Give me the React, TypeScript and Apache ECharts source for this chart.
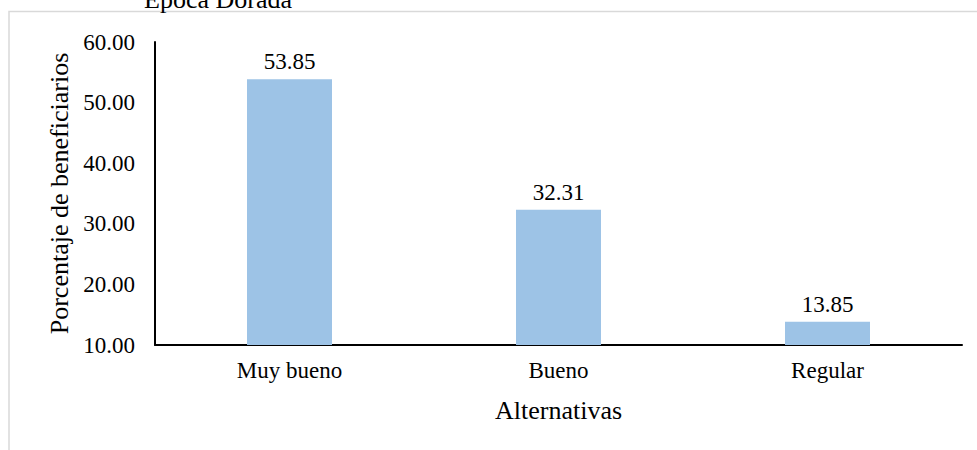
import React, { useEffect, useRef } from "react";
import * as echarts from "echarts";

// Survey results: share of beneficiaries per answer
const titleText = "Época Dorada";
const categories = ["Muy bueno", "Bueno", "Regular"];
const percentages = [53.85, 32.31, 13.85];
const yMin = 10;
const yMax = 60;
const yStep = 10;
const xAxisTitle = "Alternativas";
const yAxisTitle = "Porcentaje de beneficiarios";

const FONT = "'Liberation Serif', 'Times New Roman', serif";

export default function App() {
  const ref = useRef<HTMLDivElement>(null);

  useEffect(() => {
    if (!ref.current) return;
    const chart = echarts.init(ref.current, null, { renderer: "svg" });
    chart.setOption({
      animation: false,
      backgroundColor: "#ffffff",
      textStyle: { fontFamily: FONT, color: "#000" },
      graphic: [
        {
          type: "rect",
          shape: { x: 9, y: 11.5, width: 1100, height: 600 },
          style: { fill: "none", stroke: "#D9D9D9", lineWidth: 1.5 },
          silent: true,
          z: 0,
        },
        {
          type: "text",
          x: 218,
          y: -1,
          style: {
            text: titleText,
            fontFamily: FONT,
            fontSize: 26,
            fill: "#000",
            align: "center",
            verticalAlign: "middle",
          },
          z: 10,
        },
      ],
      grid: { left: 155, right: 15, top: 42, bottom: 105, containLabel: false },
      xAxis: {
        type: "category",
        data: categories,
        axisLine: { show: true, lineStyle: { color: "#000", width: 2 } },
        axisTick: { show: false },
        axisLabel: { fontFamily: FONT, fontSize: 23, color: "#000", margin: 14 },
        name: xAxisTitle,
        nameLocation: "middle",
        nameGap: 52,
        nameTextStyle: { fontFamily: FONT, fontSize: 26, color: "#000" },
      },
      yAxis: {
        type: "value",
        min: yMin,
        max: yMax,
        interval: yStep,
        axisLine: { show: true, lineStyle: { color: "#000", width: 2 } },
        axisTick: { show: false },
        splitLine: { show: false },
        axisLabel: {
          fontFamily: FONT,
          fontSize: 23,
          color: "#000",
          margin: 20,
          formatter: (v: number) => v.toFixed(2),
        },
        name: yAxisTitle,
        nameLocation: "middle",
        nameGap: 93,
        nameRotate: 90,
        nameTextStyle: { fontFamily: FONT, fontSize: 26, color: "#000", verticalAlign: "middle" },
      },
      series: [
        {
          type: "bar",
          data: percentages,
          barWidth: "31.6%",
          itemStyle: { color: "#9DC3E6" },
          label: {
            show: true,
            position: "top",
            distance: 6,
            fontFamily: FONT,
            fontSize: 23,
            color: "#000",
            formatter: (p: any) => Number(p.value).toFixed(2),
          },
        },
      ],
    });
    return () => chart.dispose();
  }, []);

  return (
    <div
      ref={ref}
      style={{ position: "absolute", left: 0, top: 0, width: 977, height: 450 }}
    />
  );
}
